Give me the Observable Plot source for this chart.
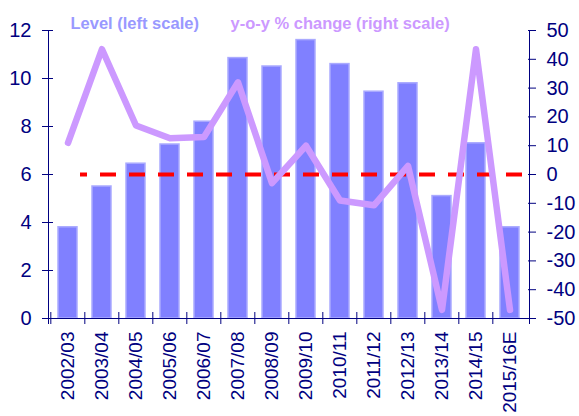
<!DOCTYPE html>
<html><head><meta charset="utf-8">
<script src="https://cdn.jsdelivr.net/npm/d3@7"></script>
<script src="https://cdn.jsdelivr.net/npm/@observablehq/plot@0.6"></script>
<style>body{margin:0;background:#fff;} svg{display:block;}</style>
</head><body><div id="chart"></div>
<script>
const years = ["2002/03","2003/04","2004/05","2005/06","2006/07","2007/08","2008/09","2009/10","2010/11","2011/12","2012/13","2013/14","2014/15","2015/16E"];
const level = [3.8, 5.5, 6.45, 7.25, 8.2, 10.85, 10.5, 11.6, 10.6, 9.45, 9.8, 5.1, 7.3, 3.8];
const yoy = [11, 43.5, 17, 12.6, 13, 32, -3, 10, -9, -10.7, 3, -47, 43.5, -47];
const leftTicks = [0, 2, 4, 6, 8, 10, 12];
const rightTicks = [-50, -40, -30, -20, -10, 0, 10, 20, 30, 40, 50];
const legendLabels = ["Level (left scale)", "y-o-y % change (right scale)"];

const W = 579, H = 416, ML = 48, MR = 50, MT = 30, MB = 98;
const toLeft = v => (v + 50) * 12 / 100;
const fromLeft = d => Math.round(d * 100 / 12 - 50);
const levelRows = years.map((year, i) => ({year, v: level[i]}));
const yoyRows = years.map((year, i) => ({year, v: yoy[i]}));
const navy = "#000080";
const font = "'Liberation Sans', Arial, sans-serif";
const step = (W - ML - MR) / years.length;

const chart = Plot.plot({
  width: W, height: H,
  marginLeft: ML, marginRight: MR, marginTop: MT, marginBottom: MB,
  style: {fontFamily: font, fontSize: "20px", color: navy, background: "#fff", overflow: "visible"},
  x: {domain: years, paddingInner: 0.45, paddingOuter: 0.225, axis: null},
  y: {domain: [0, 12], axis: null},
  marks: [
    Plot.barY(levelRows, {x: "year", y: "v", fill: "#8080ff", stroke: "#aaaaff", strokeWidth: 1.5}),
    Plot.ruleY([toLeft(0)], {stroke: "#ff0000", strokeWidth: 4, strokeDasharray: "16,13", strokeDashoffset: 9, insetLeft: 32, insetRight: 6}),
    Plot.line(yoyRows, {x: "year", y: d => toLeft(d.v), stroke: "#cc99ff", strokeWidth: 6.5, strokeLinejoin: "round", strokeLinecap: "round"}),
    Plot.frame({anchor: "left", stroke: navy, insetBottom: -5}),
    Plot.frame({anchor: "right", stroke: navy, insetBottom: -5}),
    Plot.frame({anchor: "bottom", stroke: navy, insetLeft: -6, insetRight: -5}),
    Plot.axisY({anchor: "left", ticks: leftTicks, tickSize: 11, dx: 5, fill: "none", stroke: navy, label: null}),
    Plot.axisY({anchor: "left", ticks: leftTicks, tickSize: 6, tickPadding: 11, stroke: "none", fill: navy, label: null, fontSize: 20}),
    Plot.axisY({anchor: "right", ticks: rightTicks.map(toLeft), tickSize: 8, dx: -2, fill: "none", stroke: navy, label: null}),
    Plot.axisY({anchor: "right", ticks: rightTicks.map(toLeft), tickFormat: fromLeft, tickSize: 0, tickPadding: 17, stroke: "none", fill: navy, label: null, fontSize: 20}),
    Plot.axisX({anchor: "bottom", tickSize: 12, dy: -6, dx: -step / 2, fill: "none", stroke: navy, label: null}),
    Plot.axisX({anchor: "bottom", tickRotate: -90, tickSize: 0, tickPadding: 13, stroke: "none", fill: navy, label: null, fontSize: 19}),
    Plot.text([legendLabels[0]], {text: d => d, frameAnchor: "top-left", dx: 22, dy: -2, lineAnchor: "bottom", textAnchor: "start", fill: "#9999ff", fontWeight: "bold", fontSize: 16.5}),
    Plot.text([legendLabels[1]], {text: d => d, frameAnchor: "top-left", dx: 182, dy: -2, lineAnchor: "bottom", textAnchor: "start", fill: "#cc99ff", fontWeight: "bold", fontSize: 16.5})
  ]
});
document.getElementById("chart").appendChild(chart);
</script>
</body></html>
